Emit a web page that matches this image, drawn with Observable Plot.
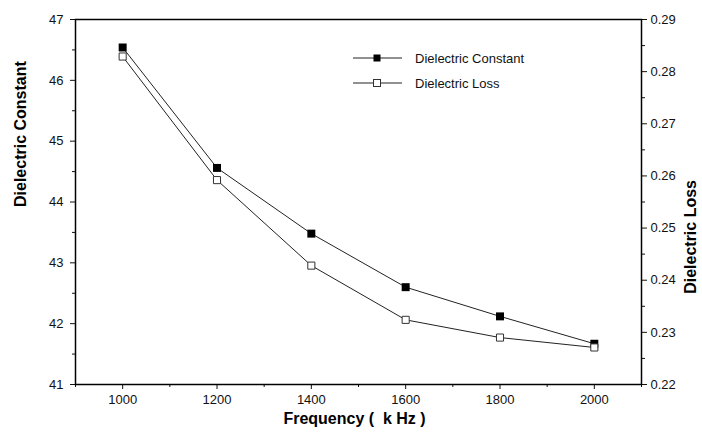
<!DOCTYPE html>
<html>
<head>
<meta charset="utf-8">
<script src="https://cdn.jsdelivr.net/npm/d3@7"></script>
<script src="https://cdn.jsdelivr.net/npm/@observablehq/plot@0.6"></script>
<style>
  html, body { margin: 0; padding: 0; background: #fff; }
  #wrap { position: relative; width: 702px; height: 439px; font-family: "Liberation Sans", Arial, sans-serif; }
  .legend { position: absolute; left: 352px; font-size: 13px; color: #111; display: flex; align-items: center; white-space: nowrap; }
  .legend svg { display: block; margin-right: 13px; }
</style>
</head>
<body>
<div id="wrap"></div>
<script>
// Data
const frequency = [1000, 1200, 1400, 1600, 1800, 2000];
const dielectricConstant = [46.54, 44.56, 43.48, 42.60, 42.12, 41.67];
const dielectricLoss = [0.2829, 0.2592, 0.2428, 0.2324, 0.2290, 0.2271];

// Tick values
const xTicks = [1000, 1200, 1400, 1600, 1800, 2000];
const xMinorTicks = [900, 1100, 1300, 1500, 1700, 1900, 2100];
const leftTicks = [41, 42, 43, 44, 45, 46, 47];
const leftMinorTicks = [41.5, 42.5, 43.5, 44.5, 45.5, 46.5];
const rightTicks = [0.22, 0.23, 0.24, 0.25, 0.26, 0.27, 0.28, 0.29];
const rightMinorTicks = [0.225, 0.235, 0.245, 0.255, 0.265, 0.275, 0.285];

const leftDomain = [41, 47];
const rightDomain = [0.22, 0.29];
const toLeft = v => leftDomain[0] + (v - rightDomain[0]) / (rightDomain[1] - rightDomain[0]) * (leftDomain[1] - leftDomain[0]);
const fromLeft = v => rightDomain[0] + (v - leftDomain[0]) / (leftDomain[1] - leftDomain[0]) * (rightDomain[1] - rightDomain[0]);

const constRows = frequency.map((f, i) => ({f, v: dielectricConstant[i]}));
const lossRows = frequency.map((f, i) => ({f, v: toLeft(dielectricLoss[i])}));

const lineColor = "#222";
const font = "Liberation Sans, Arial, sans-serif";

const chart = Plot.plot({
  width: 702,
  height: 439,
  marginLeft: 75,
  marginRight: 61,
  marginTop: 19,
  marginBottom: 55,
  style: {fontFamily: font, fontSize: "13px", color: "#111", background: "#fff"},
  x: {domain: [900, 2100]},
  y: {domain: leftDomain},
  marks: [
    Plot.axisX(xTicks, {anchor: "bottom", tickSize: 5, tickPadding: 5, label: null, fontSize: 13, tickFormat: d => String(d)}),
    Plot.axisX(xMinorTicks, {anchor: "bottom", tickSize: 3, tickFormat: () => "", label: null}),
    Plot.axisY(leftTicks, {anchor: "left", tickSize: 5, tickPadding: 7, label: null, fontSize: 13, tickFormat: d => String(d)}),
    Plot.axisY(leftMinorTicks, {anchor: "left", tickSize: 3, tickFormat: () => "", label: null}),
    Plot.axisY(rightTicks.map(toLeft), {anchor: "right", tickSize: 5, tickPadding: 4, label: null, fontSize: 13,
      tickFormat: d => fromLeft(d).toFixed(2)}),
    Plot.axisY(rightMinorTicks.map(toLeft), {anchor: "right", tickSize: 3, tickFormat: () => "", label: null}),
    Plot.frame({stroke: "#000", strokeWidth: 1.5}),
    Plot.line(constRows, {x: "f", y: "v", stroke: lineColor, strokeWidth: 1}),
    Plot.line(lossRows, {x: "f", y: "v", stroke: lineColor, strokeWidth: 1}),
    Plot.dot(constRows, {x: "f", y: "v", symbol: "square", r: 4.5, fill: "#000", stroke: "none"}),
    Plot.dot(lossRows, {x: "f", y: "v", symbol: "square", r: 4, fill: "#fff", stroke: "#333", strokeWidth: 1}),
    Plot.text(["Dielectric Constant"], {frameAnchor: "left", rotate: -90, dx: -55, dy: 5, fontWeight: "bold", fontSize: 16, fill: "#000"}),
    Plot.text(["Dielectric Loss"], {frameAnchor: "right", rotate: -90, dx: 49, dy: -22, fontWeight: "bold", fontSize: 16, fill: "#000"}),
    Plot.text(["Frequency (  k Hz )"], {frameAnchor: "bottom", dy: 39, dx: -4, fontWeight: "bold", fontSize: 16, fill: "#000"})
  ]
});
const wrap = document.getElementById("wrap");
wrap.appendChild(chart);

// Legend overlay
const legendItems = [
  {label: "Dielectric Constant", fill: "#000", stroke: "none", top: 50},
  {label: "Dielectric Loss", fill: "#fff", stroke: "#333", top: 75}
];
for (const item of legendItems) {
  const div = document.createElement("div");
  div.className = "legend";
  div.style.top = item.top + "px";
  div.innerHTML = `<svg width="50" height="16"><line x1="1" x2="50" y1="8" y2="8" stroke="${lineColor}" stroke-width="1"/>` +
    `<rect x="21.5" y="4.5" width="7" height="7" fill="${item.fill}" stroke="${item.stroke}" stroke-width="1"/></svg>` +
    `<span>${item.label}</span>`;
  wrap.appendChild(div);
}
</script>
</body>
</html>
